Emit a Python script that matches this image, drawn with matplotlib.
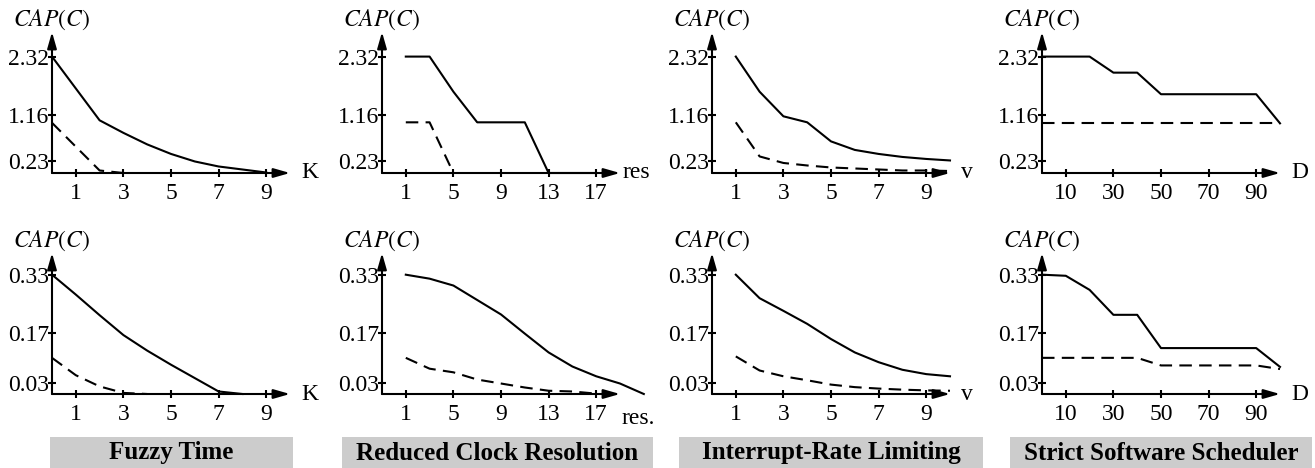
import numpy as np
import matplotlib
matplotlib.use('Agg')
import matplotlib.pyplot as plt

plt.rcParams['font.family'] = ['Liberation Serif', 'DejaVu Serif']
plt.rcParams['mathtext.fontset'] = 'stix'

# column titles and x-axis names
titles = ['Fuzzy Time', 'Reduced Clock Resolution', 'Interrupt-Rate Limiting', 'Strict Software Scheduler']
xnames_top = ['K', 'res', 'v', 'D']
xnames_bot = ['K', 'res.', 'v', 'D']

xticks = [[1, 3, 5, 7, 9], [1, 5, 9, 13, 17], [1, 3, 5, 7, 9], [10, 30, 50, 70, 90]]
xlims = [(0, 10), (-1, 19), (0, 10), (0, 100)]
yticks_top = [0.23, 1.16, 2.32]
yticks_bot = [0.03, 0.17, 0.33]

# top row
fuzzy_top_x = [0, 2, 3, 4, 5, 6, 7, 8, 9]
fuzzy_top_solid = [2.32, 1.05, 0.80, 0.57, 0.38, 0.23, 0.13, 0.07, 0.01]
fuzzy_top_dash_x = [0, 2, 3]
fuzzy_top_dash = [1.0, 0.05, 0.0]

clock_top_x = [1, 3, 5, 7, 11, 13, 17]
clock_top_solid = [2.32, 2.32, 1.62, 1.01, 1.01, 0.0, 0.0]
clock_top_dash_x = [1, 3, 5]
clock_top_dash = [1.01, 1.01, 0.0]

irl_x = [1, 2, 3, 4, 5, 6, 7, 8, 9, 10]
irl_top_solid = [2.32, 1.62, 1.13, 1.01, 0.63, 0.46, 0.38, 0.32, 0.28, 0.25]
irl_top_dash = [1.01, 0.33, 0.20, 0.15, 0.11, 0.09, 0.07, 0.05, 0.05, 0.04]

sched_top_x = [0, 20, 30, 40, 50, 90, 100]
sched_top_solid = [2.32, 2.32, 2.0, 2.0, 1.57, 1.57, 0.99]
sched_top_dash_x = [0, 100]
sched_top_dash = [0.99, 0.99]

# bottom row
fuzzy_bot_x = [0, 1, 2, 3, 4, 5, 6, 7, 8]
fuzzy_bot_solid = [0.33, 0.275, 0.218, 0.163, 0.12, 0.081, 0.044, 0.007, 0.0]
fuzzy_bot_dash_x = [0, 1, 2, 3, 4]
fuzzy_bot_dash = [0.10, 0.052, 0.021, 0.003, 0.0]

clock_bot_x = [1, 3, 5, 7, 9, 11, 13, 15, 17, 19, 21]
clock_bot_solid = [0.33, 0.319, 0.30, 0.26, 0.22, 0.167, 0.115, 0.076, 0.049, 0.029, 0.0]
clock_bot_dash_x = [1, 3, 5, 7, 9, 11, 13, 15, 17]
clock_bot_dash = [0.10, 0.07, 0.06, 0.04, 0.029, 0.018, 0.009, 0.007, 0.001]

irl_bot_solid = [0.33, 0.265, 0.23, 0.194, 0.152, 0.115, 0.088, 0.067, 0.055, 0.049]
irl_bot_dash = [0.104, 0.065, 0.049, 0.038, 0.026, 0.019, 0.015, 0.012, 0.01, 0.009]

sched_bot_x = [0, 10, 20, 30, 40, 50, 90, 100]
sched_bot_solid = [0.33, 0.327, 0.288, 0.219, 0.219, 0.127, 0.127, 0.075]
sched_bot_dash_x = [0, 40, 50, 90, 100]
sched_bot_dash = [0.10, 0.10, 0.079, 0.079, 0.069]

top_series = [
    (fuzzy_top_x, fuzzy_top_solid, fuzzy_top_dash_x, fuzzy_top_dash),
    (clock_top_x, clock_top_solid, clock_top_dash_x, clock_top_dash),
    (irl_x, irl_top_solid, irl_x, irl_top_dash),
    (sched_top_x, sched_top_solid, sched_top_dash_x, sched_top_dash),
]
bot_series = [
    (fuzzy_bot_x, fuzzy_bot_solid, fuzzy_bot_dash_x, fuzzy_bot_dash),
    (clock_bot_x, clock_bot_solid, clock_bot_dash_x, clock_bot_dash),
    (irl_x, irl_bot_solid, irl_x, irl_bot_dash),
    (sched_bot_x, sched_bot_solid, sched_bot_dash_x, sched_bot_dash),
]

W, H = 1315, 468
fig = plt.figure(figsize=(W / 100, H / 100), dpi=100)

col_px = [(52, 290), (382, 620), (712, 950), (1042, 1280)]
rows = [(32, 173, 2.81, yticks_top, top_series, xnames_top),
        (253, 394, 0.39, yticks_bot, bot_series, xnames_bot)]
FS = 17


def draw_panel(ax, sx, sy, dx, dy, xlim, ytop, xt, yt, xname):
    ax.plot(sx, sy, color='k', lw=1.5, clip_on=False)
    ax.plot(dx, dy, color='k', lw=1.5, linestyle=(0, (6, 3.5)), clip_on=False)
    ax.set_xlim(*xlim)
    ax.set_ylim(0, ytop)
    for s in ax.spines.values():
        s.set_visible(False)
    arrow = dict(arrowstyle='-|>,head_length=0.7,head_width=0.2', color='k', lw=1.5,
                 shrinkA=0, shrinkB=0, mutation_scale=14)
    ax.annotate('', xy=(1, 0), xytext=(0, 0), xycoords='axes fraction', arrowprops=arrow)
    ax.annotate('', xy=(0, 1), xytext=(0, 0), xycoords='axes fraction', arrowprops=arrow)
    ax.set_xticks(xt)
    ax.set_yticks(yt)
    ax.set_yticklabels(['%.2f' % v for v in yt])
    ax.tick_params(direction='inout', length=6, width=1.5, labelsize=FS)
    ax.tick_params(axis='y', pad=-1)
    ax.tick_params(axis='x', pad=4)
    ax.text(0, 1, r'$\mathit{CAP}(C)$', transform=ax.transAxes, ha='center', va='bottom',
            fontsize=FS)
    if xname == 'res.':
        ax.annotate(xname, xy=(1, 0), xycoords='axes fraction', xytext=(13, -10),
                    textcoords='offset points', ha='center', va='top', fontsize=FS)
    else:
        off = 2 if xname == 'res' else 8
        ax.annotate(xname, xy=(1, 0), xycoords='axes fraction', xytext=(off, 0),
                    textcoords='offset points', ha='left', va='center', fontsize=FS)


for top, bottom, ytop, yt, series, names in rows:
    for i, (l, r) in enumerate(col_px):
        ax = fig.add_axes([l / W, 1 - bottom / H, (r - l) / W, (bottom - top) / H])
        ax.patch.set_visible(False)
        sx, sy, dx, dy = series[i]
        draw_panel(ax, sx, sy, dx, dy, xlims[i], ytop, xticks[i], yt, names[i])

# gray title boxes under each column
box_px = [(50, 293), (342, 653), (679, 983), (1010, 1312)]
for (l, r), t in zip(box_px, titles):
    fig.patches.append(plt.Rectangle((l / W, 0), (r - l) / W, 31 / H, transform=fig.transFigure,
                                     facecolor='#cccccc', edgecolor='none'))
    fig.text((l + r) / 2 / W, 15 / H, t, ha='center', va='center', fontsize=18,
             fontweight='bold')

fig.savefig('out.png', dpi=100)
